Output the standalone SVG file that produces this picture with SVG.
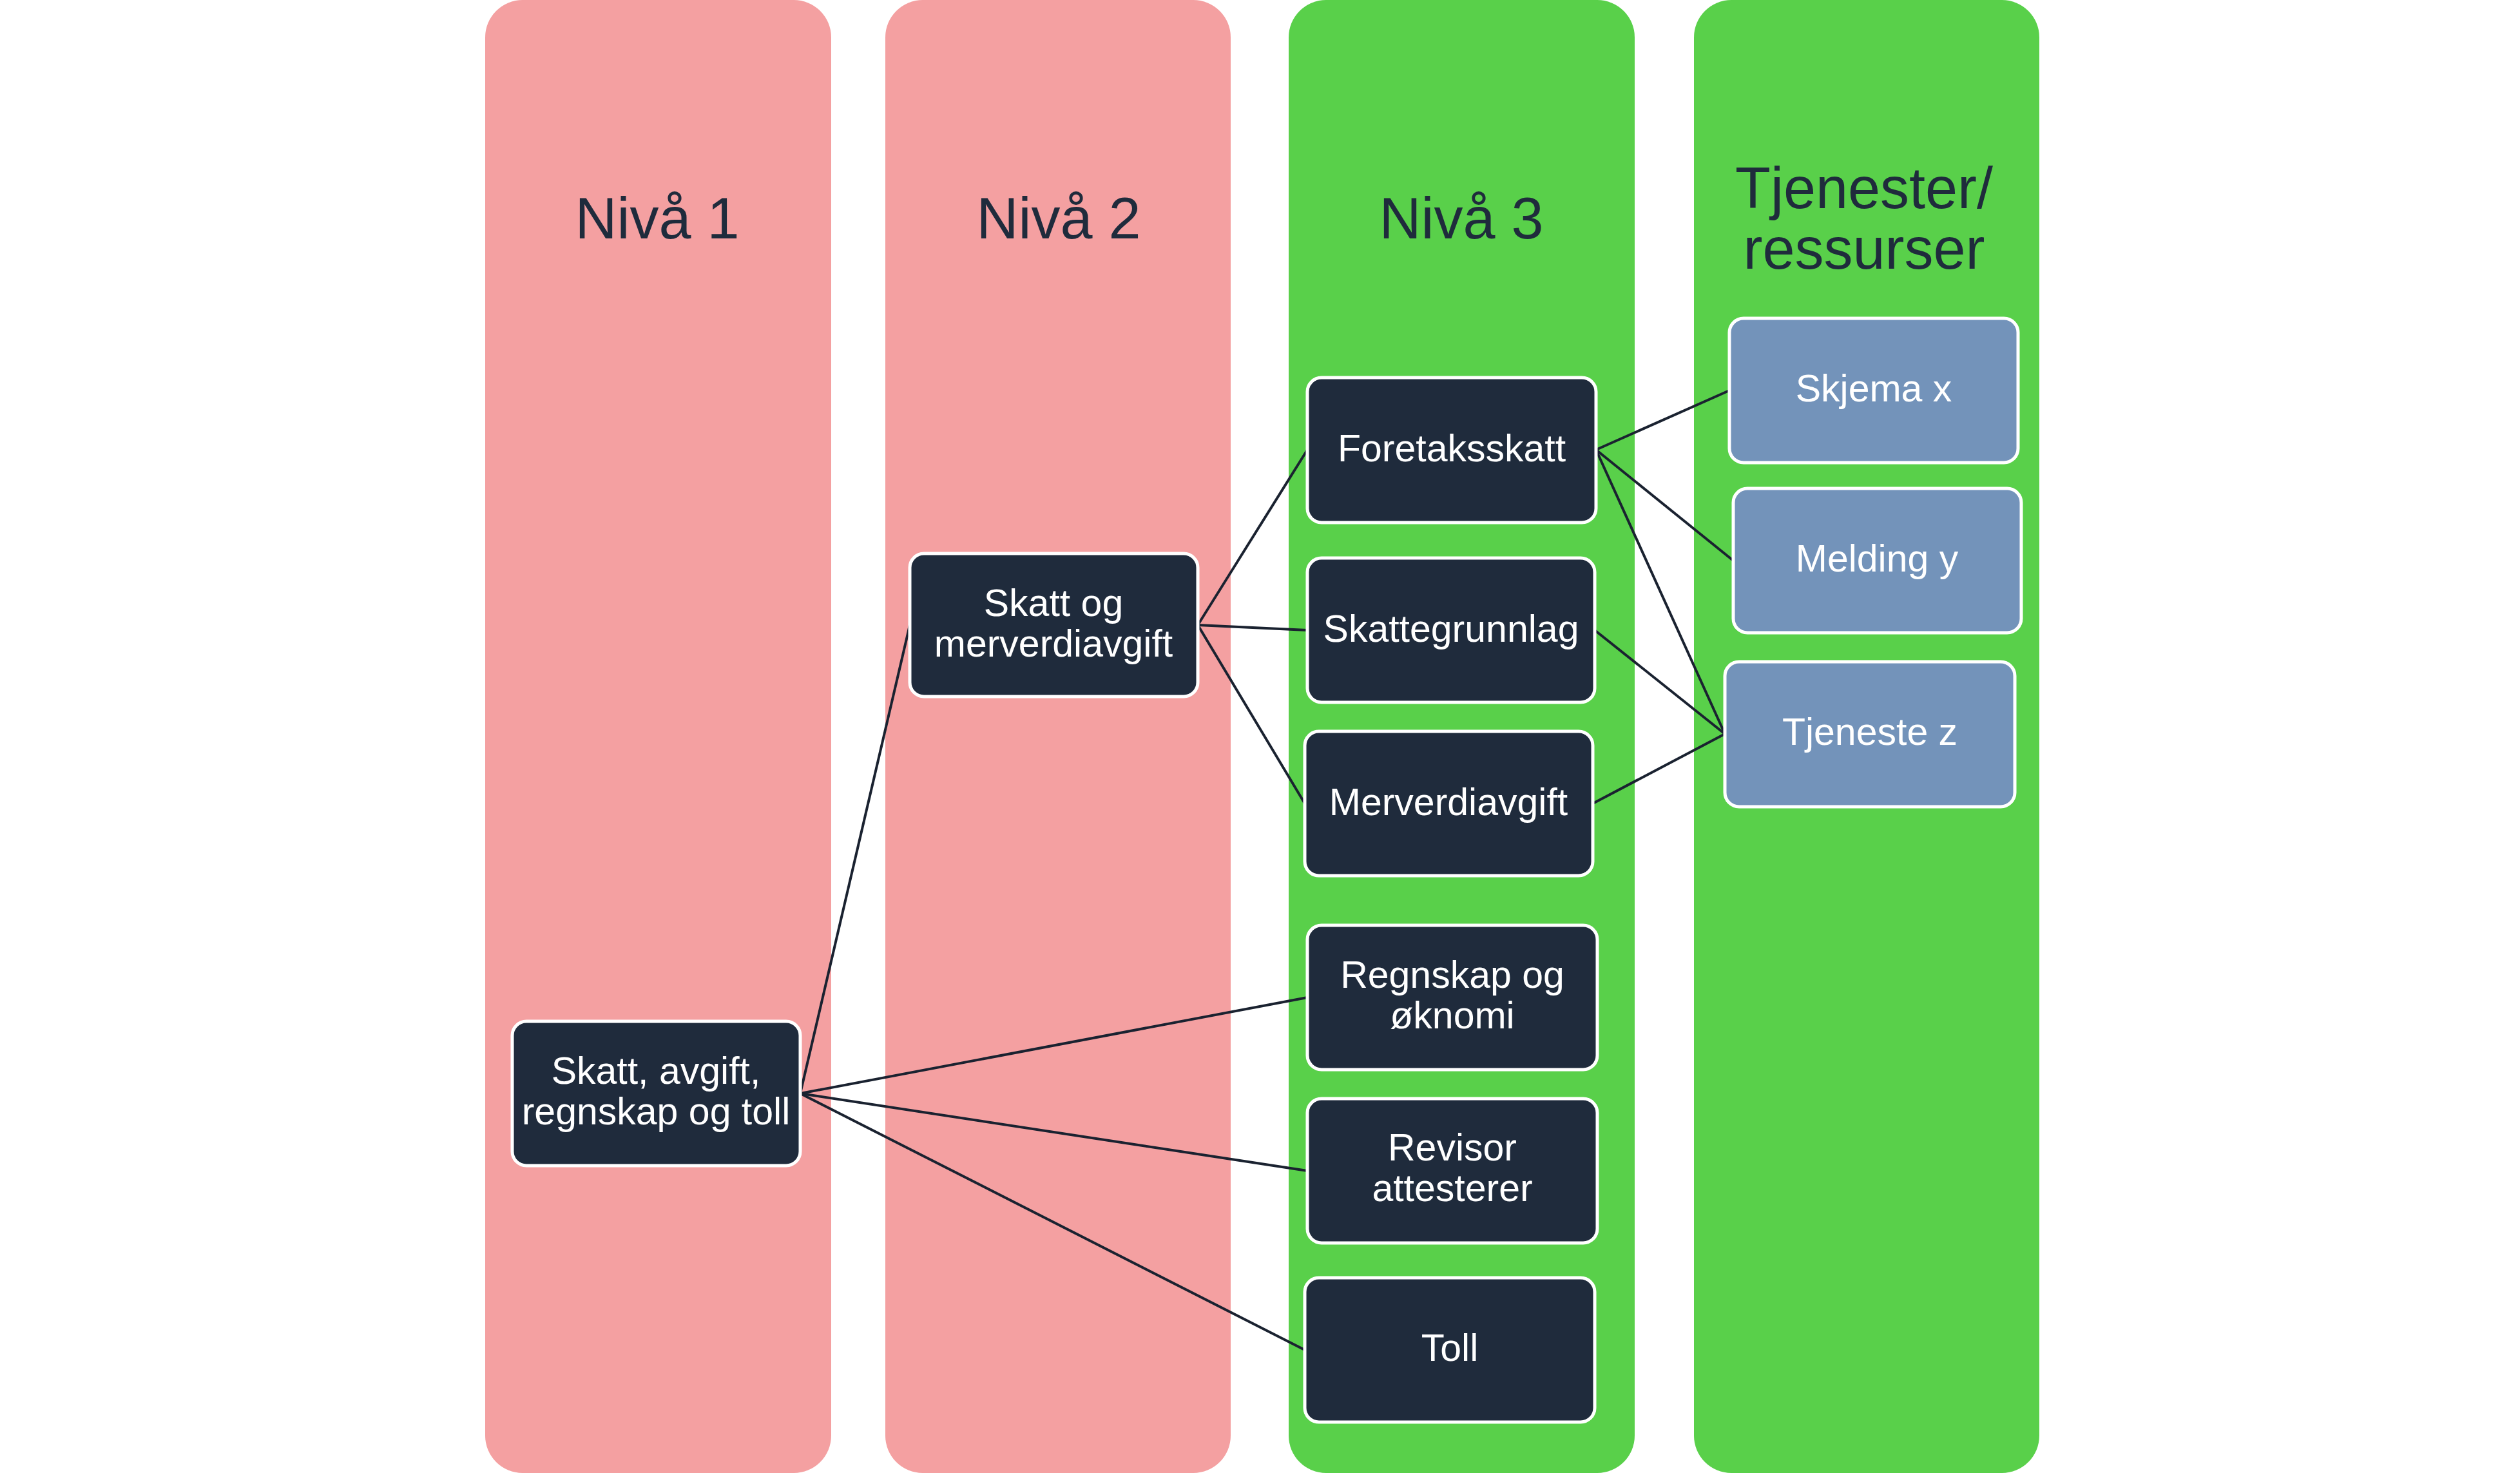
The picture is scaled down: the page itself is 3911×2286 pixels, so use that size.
<svg xmlns="http://www.w3.org/2000/svg" width="3911" height="2286" viewBox="0 0 3911 2286">
<style>
.col-pink{fill:#F4A0A1}
.col-green{fill:#59D04A}
.title{font-family:"Liberation Sans",Arial,sans-serif;font-size:90px;fill:#1F2B3C;text-anchor:middle}
.node{fill:#1F2B3C;stroke:#FFFFFF;stroke-width:5}
.res{fill:#7393BA;stroke:#FFFFFF;stroke-width:5}
.lbl{font-family:"Liberation Sans",Arial,sans-serif;font-size:59px;fill:#FFFFFF;text-anchor:middle}
.conn line{stroke:#1A2230;stroke-width:4;fill:none}
</style>
<rect width="3911" height="2286" fill="#FFFFFF"/>
<g id="columns">
<rect class="col-pink" x="753" y="0" width="537" height="2286" rx="58" ry="58"/>
<rect class="col-pink" x="1374" y="0" width="536" height="2286" rx="58" ry="58"/>
<rect class="col-green" x="2000" y="0" width="537" height="2286" rx="58" ry="58"/>
<rect class="col-green" x="2629" y="0" width="536" height="2286" rx="58" ry="58"/>
<text class="title" x="1020" y="370">Nivå 1</text>
<text class="title" x="1643" y="370">Nivå 2</text>
<text class="title" x="2268" y="370">Nivå 3</text>
<text class="title" x="2893" y="323">Tjenester/</text>
<text class="title" x="2893" y="417">ressurser</text>
</g>
<g id="connectors" class="conn">
<line x1="1242" y1="1697" x2="1412" y2="970"/>
<line x1="1242" y1="1697" x2="2029" y2="1548"/>
<line x1="1242" y1="1697" x2="2029" y2="1817"/>
<line x1="1242" y1="1697" x2="2025" y2="2095"/>
<line x1="1859" y1="970" x2="2029" y2="698"/>
<line x1="1859" y1="970" x2="2029" y2="978"/>
<line x1="1859" y1="970" x2="2025" y2="1247"/>
<line x1="2477" y1="698" x2="2684" y2="606"/>
<line x1="2477" y1="698" x2="2690" y2="870"/>
<line x1="2477" y1="698" x2="2677" y2="1139"/>
<line x1="2475" y1="978" x2="2677" y2="1139"/>
<line x1="2472" y1="1247" x2="2677" y2="1139"/>
</g>
<g id="n-skatt-avgift">
<rect class="node" x="795" y="1585" width="447" height="224" rx="22"/>
<text class="lbl" x="1018" y="1682">Skatt, avgift,</text>
<text class="lbl" x="1018" y="1745">regnskap og toll</text>
</g>
<g id="n-skatt-mva">
<rect class="node" x="1412" y="859" width="447" height="222" rx="22"/>
<text class="lbl" x="1635" y="956">Skatt og</text>
<text class="lbl" x="1635" y="1019">merverdiavgift</text>
</g>
<g id="n-foretaksskatt">
<rect class="node" x="2029" y="586" width="448" height="225" rx="22"/>
<text class="lbl" x="2253" y="716">Foretaksskatt</text>
</g>
<g id="n-skattegrunnlag">
<rect class="node" x="2029" y="866" width="446" height="224" rx="22"/>
<text class="lbl" x="2252" y="996">Skattegrunnlag</text>
</g>
<g id="n-merverdiavgift">
<rect class="node" x="2025" y="1135" width="447" height="224" rx="22"/>
<text class="lbl" x="2248" y="1265">Merverdiavgift</text>
</g>
<g id="n-regnskap">
<rect class="node" x="2029" y="1436" width="450" height="224" rx="22"/>
<text class="lbl" x="2254" y="1533">Regnskap og</text>
<text class="lbl" x="2254" y="1596">øknomi</text>
</g>
<g id="n-revisor">
<rect class="node" x="2029" y="1705" width="450" height="224" rx="22"/>
<text class="lbl" x="2254" y="1801">Revisor</text>
<text class="lbl" x="2254" y="1864">attesterer</text>
</g>
<g id="n-toll">
<rect class="node" x="2025" y="1983" width="450" height="224" rx="22"/>
<text class="lbl" x="2250" y="2112">Toll</text>
</g>
<g id="n-skjema">
<rect class="res" x="2684" y="494" width="448" height="224" rx="22"/>
<text class="lbl" x="2908" y="623">Skjema x</text>
</g>
<g id="n-melding">
<rect class="res" x="2690" y="758" width="447" height="224" rx="22"/>
<text class="lbl" x="2913" y="887">Melding y</text>
</g>
<g id="n-tjeneste">
<rect class="res" x="2677" y="1027" width="450" height="225" rx="22"/>
<text class="lbl" x="2902" y="1156">Tjeneste z</text>
</g>
</svg>
